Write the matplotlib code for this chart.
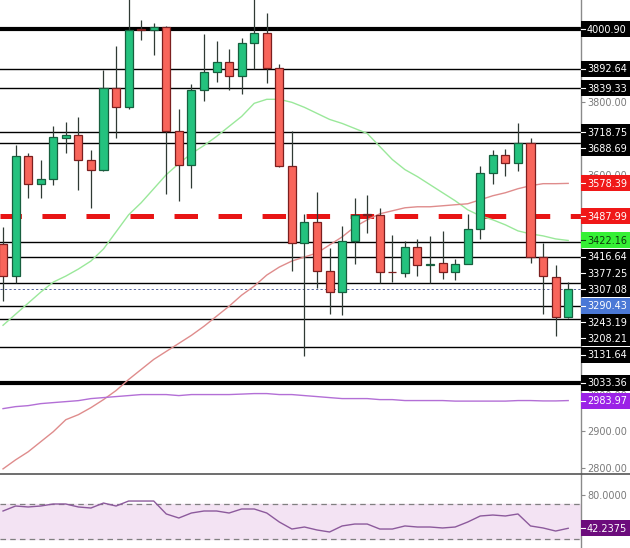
import matplotlib
matplotlib.use("Agg")
import matplotlib.pyplot as plt
from matplotlib.patches import Rectangle
from matplotlib.lines import Line2D
from matplotlib.ticker import FormatStrFormatter
import numpy as np

plt.rcParams['font.family'] = ['DejaVu Sans']
plt.rcParams['lines.scale_dashes'] = False

# ---------------- data ----------------
opens = [3412.7, 3324.7, 3654.6, 3577.6, 3591.3, 3701.3, 3709.5, 3643.6, 3616.1, 3838.7,
         3786.5, 4001.0, 3998.1, 4006.4, 3720.5, 3629.8, 3833.2, 3882.7, 3910.2, 3871.7,
         3962.4, 3989.9, 3893.7, 3627.1, 3415.4, 3473.1, 3338.5, 3280.7, 3420.9, 3493.5,
         3492.4, 3336.5, 3332.9, 3404.4, 3356.0, 3360.4, 3335.7, 3357.7, 3453.9, 3607.8,
         3657.3, 3635.3, 3688.3, 3376.9, 3322.0, 3212.0]
highs = [3459.4, 3684.8, 3662.8, 3643.6, 3734.3, 3745.3, 3759.0, 3671.0, 3888.2, 3954.2,
         4095.0, 4025.6, 4017.4, 4008.0, 3781.0, 3849.7, 3987.1, 3967.9, 3945.9, 3976.1,
         4095.0, 4044.9, 3904.7, 3720.5, 3495.1, 3555.6, 3401.7, 3462.1, 3539.1, 3547.4,
         3511.6, 3437.4, 3420.9, 3426.4, 3434.7, 3448.4, 3371.4, 3495.1, 3627.1, 3671.0,
         3673.8, 3742.5, 3701.3, 3415.4, 3354.9, 3308.2]
lows = [3256.0, 3305.5, 3539.1, 3539.1, 3574.8, 3662.8, 3561.1, 3511.6, 3613.3, 3701.3,
        3781.0, 3970.7, 3929.4, 3550.1, 3530.9, 3566.6, 3803.0, 3855.2, 3833.2, 3822.2,
        3890.9, 3852.5, 3624.3, 3338.5, 3104.8, 3291.7, 3220.3, 3217.5, 3357.7, 3442.9,
        3305.5, 3308.2, 3322.0, 3324.7, 3305.5, 3316.5, 3313.7, 3357.0, 3426.4, 3577.6,
        3599.6, 3613.3, 3360.4, 3220.3, 3159.8, 3211.0]
closes = [3324.7, 3654.6, 3577.6, 3591.3, 3704.0, 3709.5, 3643.6, 3616.1, 3838.7, 3786.5,
          3998.1, 3998.5, 4006.4, 3720.5, 3629.8, 3833.2, 3882.7, 3910.2, 3871.7, 3962.4,
          3989.9, 3893.7, 3627.1, 3415.4, 3473.1, 3338.5, 3280.7, 3420.9, 3492.4, 3491.5,
          3335.7, 3335.0, 3404.4, 3354.9, 3358.0, 3335.7, 3357.7, 3453.9, 3607.8, 3657.3,
          3635.3, 3688.3, 3376.9, 3324.7, 3212.0, 3290.43]

ma_fast = [3190.0, 3220.3, 3250.5, 3280.7, 3308.2, 3324.7, 3343.9, 3365.9, 3398.9, 3445.6,
           3492.4, 3525.4, 3563.8, 3602.3, 3632.6, 3660.0, 3682.0, 3706.8, 3734.3, 3761.7,
           3797.5, 3808.5, 3808.5, 3800.2, 3786.5, 3770.0, 3753.5, 3742.5, 3728.8, 3715.0,
           3679.3, 3643.6, 3616.1, 3596.8, 3574.8, 3552.8, 3530.9, 3506.1, 3489.6, 3478.6,
           3464.9, 3448.4, 3440.2, 3434.7, 3426.4, 3422.16]
ma_mid = [2797.0, 2821.7, 2843.7, 2871.2, 2898.7, 2931.6, 2945.4, 2964.6, 2986.6, 3011.4,
          3041.6, 3069.1, 3096.6, 3118.6, 3140.5, 3162.5, 3187.3, 3214.8, 3242.2, 3272.5,
          3297.2, 3327.5, 3349.4, 3365.9, 3376.9, 3387.9, 3409.9, 3431.9, 3459.4, 3478.6,
          3495.1, 3503.4, 3511.6, 3514.4, 3514.4, 3517.1, 3519.9, 3522.6, 3533.6, 3544.6,
          3552.8, 3563.8, 3572.1, 3577.6, 3577.6, 3578.39]
ma_slow = [2961.9, 2967.4, 2970.1, 2975.6, 2978.4, 2981.1, 2983.8, 2989.4, 2992.1, 2994.9,
           2997.6, 3000.4, 3000.4, 3000.4, 2997.6, 3000.4, 3000.4, 3000.4, 3000.4, 3001.7,
           3003.1, 3003.1, 3000.4, 3000.4, 2997.6, 2994.9, 2992.1, 2989.4, 2989.4, 2989.4,
           2986.6, 2986.6, 2984.0, 2984.0, 2984.0, 2984.0, 2982.5, 2982.5, 2982.5, 2982.5,
           2982.5, 2984.0, 2984.0, 2983.0, 2983.0, 2983.97]
rsi = [62.0, 67.7, 66.6, 67.7, 70.0, 70.0, 66.6, 65.4, 71.1, 67.7,
       73.4, 73.4, 73.4, 58.6, 54.0, 59.7, 62.0, 62.0, 59.7, 64.3,
       64.3, 59.7, 49.4, 41.4, 43.7, 40.3, 38.0, 44.9, 47.1, 47.1,
       41.4, 41.4, 44.9, 43.7, 43.7, 42.6, 43.7, 49.4, 56.3, 57.4,
       56.3, 58.6, 44.9, 42.6, 39.1, 42.2375]

levels = [4000.90, 3892.64, 3839.33, 3718.75, 3688.69, 3416.64, 3377.25,
          3307.08, 3243.19, 3208.21, 3131.64, 3033.36]
thick_levels = [4000.90, 3033.36]
pivot_level = 3487.99
last_price = 3290.43
price_ticks = [2800, 2900, 3000, 3100, 3500, 3600, 3800]
rsi_ticks = [80]
rsi_band = [30, 70]

# ---------------- figure ----------------
W, H = 630, 548
fig = plt.figure(figsize=(W / 100, H / 100), dpi=100)
fig.patch.set_facecolor('white')
ax = fig.add_axes([0, 74 / H, 580.5 / W, 474 / H])
ax2 = fig.add_axes([0, 0, 580.5 / W, 74 / H])

n = len(opens)
x = np.arange(n)
for a in (ax, ax2):
    a.set_xlim(-0.24, 45.98)
    for s in ('top', 'left', 'bottom'):
        a.spines[s].set_visible(False)
    a.spines['right'].set_color('#8a8a8a')
    a.spines['right'].set_linewidth(1.0)
    a.tick_params(axis='x', bottom=False, labelbottom=False)
    a.yaxis.tick_right()
    a.tick_params(axis='y', colors='#8a8a8a', labelcolor='#7a7a7a', labelsize=7,
                  length=3, width=0.8, pad=1.8)

ax.set_ylim(2783.0, 4080.3)
ax.set_yticks(price_ticks)
ax.yaxis.set_major_formatter(FormatStrFormatter('%.2f'))

# levels
for lv in levels:
    lw = 3.0 if lv in thick_levels else 1.0
    ax.axhline(lv, color='black', lw=lw, zorder=1)
ax.axhline(pivot_level, color='#e81414', lw=3.6, ls=(1.5, (16.9, 14.8)), zorder=1.2)
ax.axhline(last_price, color='#56649c', lw=0.7, ls=(0, (1.6, 1.6)), zorder=1.1)

# moving averages
ax.plot(x, ma_fast, color='#9ae89a', lw=1.0, zorder=1.5)
ax.plot(x, ma_mid, color='#df8c8c', lw=1.0, zorder=1.5)
ax.plot(x, ma_slow, color='#b36fd6', lw=1.0, zorder=1.5)

# candles
o = np.array(opens); c = np.array(closes)
up = c >= o
face = np.where(up, '#24c27e', '#f8655b')
edge = np.where(up, '#17603f', '#7c1f1f')
ax.vlines(x, lows, highs, color='#2f3a34', lw=0.9, zorder=2)
body_h = np.maximum(np.abs(c - o), 1.0)
ax.bar(x, body_h, bottom=np.minimum(o, c), width=0.64, color=face,
       edgecolor=edge, linewidth=0.9, zorder=3)

# RSI panel
ax2.set_ylim(19.7, 104.3)
ax2.set_yticks(rsi_ticks)
ax2.yaxis.set_major_formatter(FormatStrFormatter('%.4f'))
ax2.axhspan(rsi_band[0], rsi_band[1], color='#f3e3f3', zorder=0)
for b in rsi_band:
    ax2.axhline(b, color='#808080', lw=0.9, ls=(0, (4, 3)), zorder=1)
ax2.plot(x, rsi, color='#8c5a9c', lw=1.0, zorder=2)

# panel separator
fig.add_artist(Line2D([0, 1], [74 / H, 74 / H], transform=fig.transFigure,
                      color='#555555', lw=1.2, zorder=4))

# right-side value labels
fig.canvas.draw()
main_labels = [(lv, 'black', 'white') for lv in levels]
main_labels += [(ma_mid[-1], '#f01818', 'white'), (pivot_level, '#f01818', 'white'),
                (ma_fast[-1], '#35f035', '#0c3a0c'), (last_price, '#4a78d6', 'white'),
                (ma_slow[-1], '#9b22e6', 'white')]
main_labels.sort(key=lambda t: -t[0])


def draw_label(img_y, val, fc, tc, fmt):
    fig.add_artist(Rectangle((581 / W, (H - img_y - 8) / H), 55 / W, 16 / H,
                             transform=fig.transFigure, facecolor=fc,
                             edgecolor='none', zorder=5))
    fig.add_artist(Line2D([581 / W, 584.5 / W], [(H - img_y) / H] * 2,
                          transform=fig.transFigure, color='white' if fc != '#35f035' else '#0c3a0c',
                          lw=0.8, zorder=6))
    fig.text(587 / W, (H - img_y - 3.6) / H, fmt % val, color=tc, fontsize=7,
             ha='left', va='baseline', zorder=7)


prev = -100
for val, fc, tc in main_labels:
    iy = H - ax.transData.transform((0, val))[1]
    iy = max(iy, prev + 16.3)
    prev = iy
    draw_label(iy, val, fc, tc, '%.2f')

iy = H - ax2.transData.transform((0, rsi[-1]))[1]
draw_label(iy, rsi[-1], '#6c0c7c', 'white', '%.4f')

fig.savefig('out.png', dpi=100, facecolor='white')
